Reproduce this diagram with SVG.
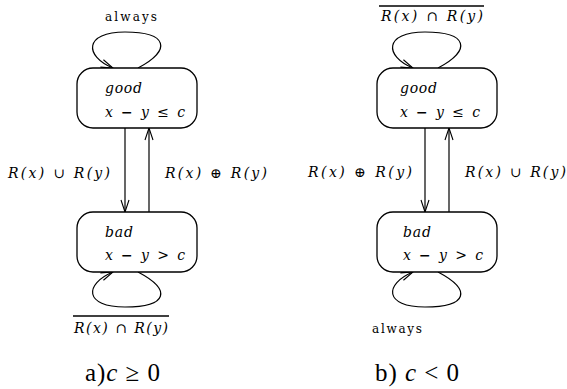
<svg xmlns="http://www.w3.org/2000/svg" width="567" height="389" viewBox="0 0 567 389">
<style>
.box{fill:#fff;stroke:#000;stroke-width:1.3}
.edge{fill:none;stroke:#000;stroke-width:1.2}
.head{fill:none;stroke:#000;stroke-width:1.1}
.m{font-family:"DejaVu Serif","Liberation Serif",serif;font-style:italic;font-size:14px;fill:#000}
.r{font-family:"DejaVu Serif","Liberation Serif",serif;font-size:12px;fill:#000}
.cap{font-family:"Liberation Serif",serif;font-size:25px;fill:#000}
.ci{font-style:italic}
.ov{stroke:#000;stroke-width:1.6}
</style>
<defs>
<marker id="ah" viewBox="-14 -6 16 12" markerWidth="16" markerHeight="12" refX="0" refY="0" orient="auto" markerUnits="userSpaceOnUse">
<path d="M-12,-4 L0,0 L-12,4" class="head"/>
</marker>
</defs>

<g id="edges">
<!-- left diagram -->
<path class="edge" d="M138,68 C172,50 168,32 125,32 C84,32 84,56 113,68" marker-end="url(#ah)"/>
<path class="edge" d="M125,128 L125,212" marker-end="url(#ah)"/>
<path class="edge" d="M149,212 L149,128" marker-end="url(#ah)"/>
<path class="edge" d="M138,272 C172,290 168,307 125,307 C84,307 84,284 113,272" marker-end="url(#ah)"/>
<!-- right diagram -->
<path class="edge" d="M438,68 C472,50 468,32 425,32 C384,32 384,56 413,68" marker-end="url(#ah)"/>
<path class="edge" d="M425,128 L425,212" marker-end="url(#ah)"/>
<path class="edge" d="M449,212 L449,128" marker-end="url(#ah)"/>
<path class="edge" d="M438,272 C472,290 468,307 425,307 C384,307 384,284 413,272" marker-end="url(#ah)"/>
</g>

<g id="good-a">
<rect class="box" x="77" y="68" width="120" height="60" rx="16"/>
<text class="m" x="105" y="93" textLength="37" lengthAdjust="spacing">good</text>
<text class="m" x="105" y="117" textLength="80" lengthAdjust="spacing">x <tspan font-style="normal" font-weight="bold">−</tspan> y ≤ c</text>
</g>
<g id="bad-a">
<rect class="box" x="77" y="212" width="120" height="60" rx="16"/>
<text class="m" x="105" y="237" textLength="28" lengthAdjust="spacing">bad</text>
<text class="m" x="105" y="260" textLength="80" lengthAdjust="spacing">x <tspan font-style="normal" font-weight="bold">−</tspan> y &gt; c</text>
</g>
<g id="good-b">
<rect class="box" x="377" y="68" width="120" height="60" rx="16"/>
<text class="m" x="400" y="93" textLength="37" lengthAdjust="spacing">good</text>
<text class="m" x="400" y="117" textLength="80" lengthAdjust="spacing">x <tspan font-style="normal" font-weight="bold">−</tspan> y ≤ c</text>
</g>
<g id="bad-b">
<rect class="box" x="377" y="212" width="120" height="60" rx="16"/>
<text class="m" x="403" y="237" textLength="28" lengthAdjust="spacing">bad</text>
<text class="m" x="403" y="260" textLength="80" lengthAdjust="spacing">x <tspan font-style="normal" font-weight="bold">−</tspan> y &gt; c</text>
</g>

<g id="labels">
<text class="r" x="105" y="21" textLength="52" lengthAdjust="spacing">always</text>
<text class="m" x="8" y="178" textLength="102" lengthAdjust="spacing">R(x) <tspan font-style="normal">∪</tspan> R(y)</text>
<text class="m" x="165" y="178" textLength="102" lengthAdjust="spacing">R(x) <tspan font-style="normal">⊕</tspan> R(y)</text>
<line class="ov" x1="73" y1="316" x2="169" y2="316"/>
<text class="m" x="74" y="333" textLength="94" lengthAdjust="spacing">R(x) <tspan font-style="normal">∩</tspan> R(y)</text>
<text class="cap" x="85" y="381" textLength="75" lengthAdjust="spacing">a)<tspan class="ci">c</tspan> ≥ 0</text>

<line class="ov" x1="379" y1="6" x2="484" y2="6"/>
<text class="m" x="381" y="21" textLength="102" lengthAdjust="spacing">R(x) <tspan font-style="normal">∩</tspan> R(y)</text>
<text class="m" x="308" y="177" textLength="104" lengthAdjust="spacing">R(x) <tspan font-style="normal">⊕</tspan> R(y)</text>
<text class="m" x="465" y="177" textLength="101" lengthAdjust="spacing">R(x) <tspan font-style="normal">∪</tspan> R(y)</text>
<text class="r" x="372" y="333" textLength="50" lengthAdjust="spacing">always</text>
<text class="cap" x="375" y="381" textLength="84" lengthAdjust="spacing">b) <tspan class="ci">c</tspan> &lt; 0</text>
</g>
</svg>
